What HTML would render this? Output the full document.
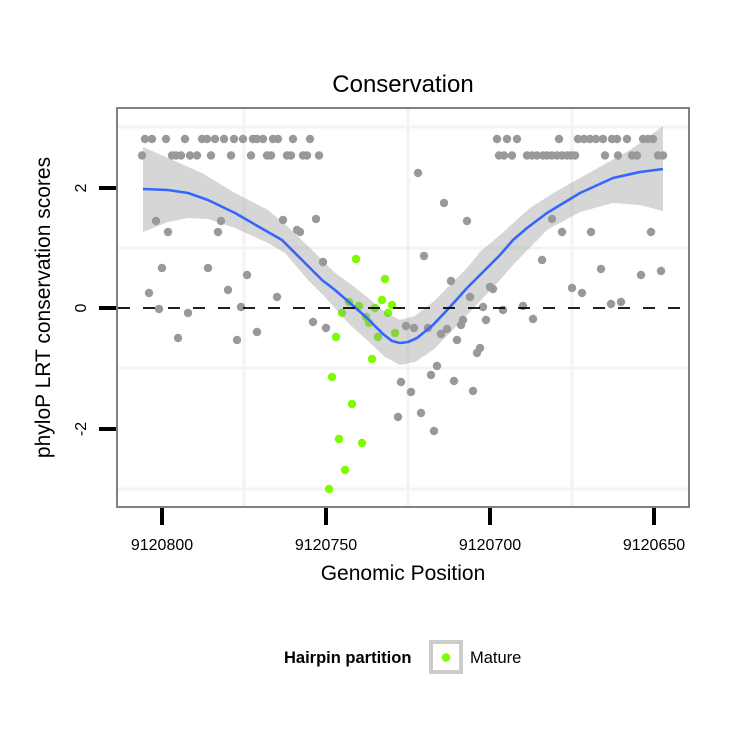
<!DOCTYPE html>
<html>
<head>
<meta charset="utf-8">
<style>
html,body{margin:0;padding:0;background:#fff;}
svg{display:block;}
text{font-family:"Liberation Sans",Arial,sans-serif;fill:#000;}
</style>
</head>
<body>
<svg width="750" height="750" viewBox="0 0 750 750" xmlns="http://www.w3.org/2000/svg">
<rect x="0" y="0" width="750" height="750" fill="#fff"/>
<!-- panel -->
<rect x="117" y="108" width="572" height="399" fill="#fff"/>
<!-- minor grid -->
<g stroke="#f3f3f3" stroke-width="3">
<line x1="118" y1="127" x2="688" y2="127"/>
<line x1="118" y1="248" x2="688" y2="248"/>
<line x1="118" y1="368" x2="688" y2="368"/>
<line x1="118" y1="489" x2="688" y2="489"/>
<line x1="244" y1="109" x2="244" y2="506"/>
<line x1="408" y1="109" x2="408" y2="506"/>
<line x1="572" y1="109" x2="572" y2="506"/>
</g>
<!-- gray points -->
<g fill="#999999">
<circle cx="145" cy="139" r="4.2"/><circle cx="152" cy="139" r="4.2"/><circle cx="166" cy="139" r="4.2"/><circle cx="185" cy="139" r="4.2"/><circle cx="202" cy="139" r="4.2"/><circle cx="207" cy="139" r="4.2"/><circle cx="215" cy="139" r="4.2"/><circle cx="224" cy="139" r="4.2"/><circle cx="234" cy="139" r="4.2"/><circle cx="243" cy="139" r="4.2"/><circle cx="253" cy="139" r="4.2"/><circle cx="257" cy="139" r="4.2"/><circle cx="263" cy="139" r="4.2"/><circle cx="273" cy="139" r="4.2"/><circle cx="278" cy="139" r="4.2"/><circle cx="293" cy="139" r="4.2"/><circle cx="310" cy="139" r="4.2"/>
<circle cx="497" cy="139" r="4.2"/><circle cx="507" cy="139" r="4.2"/><circle cx="517" cy="139" r="4.2"/><circle cx="559" cy="139" r="4.2"/><circle cx="578" cy="139" r="4.2"/><circle cx="584" cy="139" r="4.2"/><circle cx="590" cy="139" r="4.2"/><circle cx="596" cy="139" r="4.2"/><circle cx="603" cy="139" r="4.2"/><circle cx="612" cy="139" r="4.2"/><circle cx="617" cy="139" r="4.2"/><circle cx="627" cy="139" r="4.2"/><circle cx="643" cy="139" r="4.2"/><circle cx="648" cy="139" r="4.2"/><circle cx="653" cy="139" r="4.2"/>
<circle cx="142" cy="155.5" r="4.2"/><circle cx="172" cy="155.5" r="4.2"/><circle cx="176" cy="155.5" r="4.2"/><circle cx="181" cy="155.5" r="4.2"/><circle cx="190" cy="155.5" r="4.2"/><circle cx="197" cy="155.5" r="4.2"/><circle cx="211" cy="155.5" r="4.2"/><circle cx="231" cy="155.5" r="4.2"/><circle cx="251" cy="155.5" r="4.2"/><circle cx="267" cy="155.5" r="4.2"/><circle cx="271" cy="155.5" r="4.2"/><circle cx="287" cy="155.5" r="4.2"/><circle cx="291" cy="155.5" r="4.2"/><circle cx="303" cy="155.5" r="4.2"/><circle cx="307" cy="155.5" r="4.2"/><circle cx="319" cy="155.5" r="4.2"/>
<circle cx="499" cy="155.5" r="4.2"/><circle cx="504" cy="155.5" r="4.2"/><circle cx="512" cy="155.5" r="4.2"/><circle cx="527" cy="155.5" r="4.2"/><circle cx="532" cy="155.5" r="4.2"/><circle cx="537" cy="155.5" r="4.2"/><circle cx="543" cy="155.5" r="4.2"/><circle cx="547" cy="155.5" r="4.2"/><circle cx="552" cy="155.5" r="4.2"/><circle cx="557" cy="155.5" r="4.2"/><circle cx="562" cy="155.5" r="4.2"/><circle cx="567" cy="155.5" r="4.2"/><circle cx="571" cy="155.5" r="4.2"/><circle cx="575" cy="155.5" r="4.2"/><circle cx="605" cy="155.5" r="4.2"/><circle cx="618" cy="155.5" r="4.2"/><circle cx="632" cy="155.5" r="4.2"/><circle cx="637" cy="155.5" r="4.2"/><circle cx="658" cy="155.5" r="4.2"/><circle cx="663" cy="155.5" r="4.2"/>
<!-- left scattered -->
<circle cx="156" cy="221" r="4.2"/><circle cx="168" cy="232" r="4.2"/><circle cx="221" cy="221" r="4.2"/><circle cx="218" cy="232" r="4.2"/><circle cx="283" cy="220" r="4.2"/><circle cx="297" cy="230" r="4.2"/><circle cx="300" cy="232" r="4.2"/><circle cx="316" cy="219" r="4.2"/><circle cx="323" cy="262" r="4.2"/><circle cx="162" cy="268" r="4.2"/><circle cx="208" cy="268" r="4.2"/><circle cx="247" cy="275" r="4.2"/><circle cx="149" cy="293" r="4.2"/><circle cx="228" cy="290" r="4.2"/><circle cx="277" cy="297" r="4.2"/><circle cx="159" cy="309" r="4.2"/><circle cx="188" cy="313" r="4.2"/><circle cx="241" cy="307" r="4.2"/><circle cx="178" cy="338" r="4.2"/><circle cx="237" cy="340" r="4.2"/><circle cx="257" cy="332" r="4.2"/><circle cx="313" cy="322" r="4.2"/><circle cx="326" cy="328" r="4.2"/>
<!-- center scattered -->
<circle cx="424" cy="256" r="4.2"/><circle cx="418" cy="173" r="4.2"/><circle cx="444" cy="203" r="4.2"/><circle cx="467" cy="221" r="4.2"/><circle cx="451" cy="281" r="4.2"/><circle cx="470" cy="297" r="4.2"/><circle cx="490" cy="287" r="4.2"/><circle cx="493" cy="289" r="4.2"/><circle cx="483" cy="307" r="4.2"/><circle cx="503" cy="310" r="4.2"/><circle cx="523" cy="306" r="4.2"/><circle cx="486" cy="320" r="4.2"/><circle cx="533" cy="319" r="4.2"/><circle cx="463" cy="320" r="4.2"/><circle cx="461" cy="325" r="4.2"/><circle cx="406" cy="326" r="4.2"/><circle cx="414" cy="328" r="4.2"/><circle cx="428" cy="328" r="4.2"/><circle cx="447" cy="329" r="4.2"/><circle cx="441" cy="334" r="4.2"/><circle cx="457" cy="340" r="4.2"/><circle cx="480" cy="348" r="4.2"/><circle cx="477" cy="353" r="4.2"/><circle cx="437" cy="366" r="4.2"/><circle cx="431" cy="375" r="4.2"/><circle cx="454" cy="381" r="4.2"/><circle cx="473" cy="391" r="4.2"/><circle cx="401" cy="382" r="4.2"/><circle cx="411" cy="392" r="4.2"/><circle cx="421" cy="413" r="4.2"/><circle cx="398" cy="417" r="4.2"/><circle cx="434" cy="431" r="4.2"/>
<!-- right scattered -->
<circle cx="552" cy="219" r="4.2"/><circle cx="562" cy="232" r="4.2"/><circle cx="591" cy="232" r="4.2"/><circle cx="651" cy="232" r="4.2"/><circle cx="542" cy="260" r="4.2"/><circle cx="601" cy="269" r="4.2"/><circle cx="641" cy="275" r="4.2"/><circle cx="661" cy="271" r="4.2"/><circle cx="572" cy="288" r="4.2"/><circle cx="582" cy="293" r="4.2"/><circle cx="611" cy="304" r="4.2"/><circle cx="621" cy="302" r="4.2"/>
</g>
<!-- green points -->
<g fill="#7cfc00">
<circle cx="356" cy="259" r="4.2"/><circle cx="385" cy="279" r="4.2"/><circle cx="382" cy="300" r="4.2"/><circle cx="392" cy="305" r="4.2"/><circle cx="388" cy="313" r="4.2"/><circle cx="349" cy="302" r="4.2"/><circle cx="359" cy="306" r="4.2"/><circle cx="342" cy="313" r="4.2"/><circle cx="375" cy="308" r="4.2"/><circle cx="366" cy="317" r="4.2"/><circle cx="369" cy="323" r="4.2"/><circle cx="395" cy="333" r="4.2"/><circle cx="378" cy="337" r="4.2"/><circle cx="336" cy="337" r="4.2"/><circle cx="372" cy="359" r="4.2"/><circle cx="332" cy="377" r="4.2"/><circle cx="352" cy="404" r="4.2"/><circle cx="339" cy="439" r="4.2"/><circle cx="362" cy="443" r="4.2"/><circle cx="345" cy="470" r="4.2"/><circle cx="329" cy="489" r="4.2"/>
</g>
<!-- ribbon -->
<path fill="#999999" fill-opacity="0.4" d="M143,147 L168,158 L202,173 L235,193 L268,210 L288,227 L312,250 L335,273 L352,285 L367,297 L385,312 L400,320 L415,316 L433,302 L450,285 L467,268 L480,252 L500,235 L530,208 L555,192 L580,178 L605,164 L630,150 L663,126 L663,211 L640,205 L613,203 L580,212 L547,230 L513,265 L500,280 L467,315 L450,333 L433,350 L415,362 L400,365 L385,357 L367,340 L350,325 L325,297 L308,280 L285,253 L268,243 L235,228 L208,219 L188,218 L168,222 L143,232 Z"/>
<!-- smooth line -->
<polyline fill="none" stroke="#3366ff" stroke-width="2.6" stroke-linejoin="round" stroke-linecap="butt" points="143,189 168,190 188,193 208,200 235,213 268,232 282,240 302,260 322,280 335,290 350,303 367,318 383,334 392,341 400,343 408,342 417,338 433,325 450,307 467,288 483,272 500,255 513,240 527,228 547,213 580,193 613,178 640,172 663,169"/>
<!-- hline -->
<line x1="118" y1="308" x2="688" y2="308" stroke="#000" stroke-width="1.8" stroke-dasharray="12 13"/>
<!-- border -->
<rect x="117" y="108" width="572" height="399" fill="none" stroke="#808080" stroke-width="2"/>
<!-- ticks -->
<g stroke="#000" stroke-width="4">
<line x1="99" y1="188" x2="116" y2="188"/>
<line x1="99" y1="308" x2="116" y2="308"/>
<line x1="99" y1="429" x2="116" y2="429"/>
<line x1="162" y1="508" x2="162" y2="525"/>
<line x1="326" y1="508" x2="326" y2="525"/>
<line x1="490" y1="508" x2="490" y2="525"/>
<line x1="654" y1="508" x2="654" y2="525"/>
</g>
<!-- tick labels -->
<g font-size="16" text-anchor="middle">
<text x="162" y="550">9120800</text>
<text x="326" y="550">9120750</text>
<text x="490" y="550">9120700</text>
<text x="654" y="550">9120650</text>
<text transform="translate(86,188) rotate(-90)">2</text>
<text transform="translate(86,308) rotate(-90)">0</text>
<text transform="translate(86,429) rotate(-90)">-2</text>
</g>
<!-- titles -->
<text x="403" y="92" font-size="24" text-anchor="middle">Conservation</text>
<text x="403" y="580" font-size="21" text-anchor="middle">Genomic Position</text>
<text transform="translate(50,307.5) rotate(-90)" font-size="21" text-anchor="middle">phyloP LRT conservation scores</text>
<!-- legend -->
<text x="284" y="663" font-size="16.5" font-weight="bold">Hairpin partition</text>
<rect x="431" y="642" width="30" height="30" fill="#fff" stroke="#cccccc" stroke-width="4"/>
<circle cx="446" cy="657.5" r="4.3" fill="#7cfc00"/>
<text x="470" y="663" font-size="16.5">Mature</text>
</svg>
</body>
</html>
